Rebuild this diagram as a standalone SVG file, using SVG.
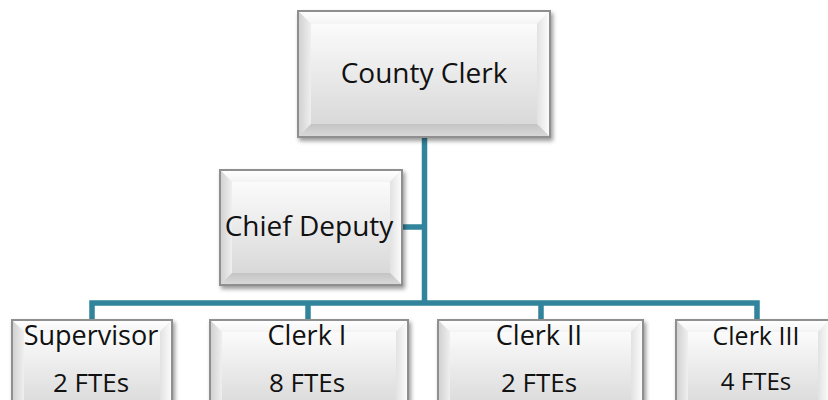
<svg xmlns="http://www.w3.org/2000/svg" width="828" height="400" viewBox="0 0 828 400">
<defs>
<linearGradient id="gInner" x1="0" y1="0" x2="0" y2="1">
<stop offset="0" stop-color="#fbfbfb"/><stop offset="1" stop-color="#d9d9d9"/>
</linearGradient>
<linearGradient id="gLeft" x1="0" y1="0" x2="1" y2="0">
<stop offset="0" stop-color="#cfcfcf"/><stop offset="1" stop-color="#efefef"/>
</linearGradient>
<linearGradient id="gRight" x1="0" y1="0" x2="1" y2="0">
<stop offset="0" stop-color="#e2e2e2"/><stop offset="1" stop-color="#fdfdfd"/>
</linearGradient>
<linearGradient id="gTop" x1="0" y1="0" x2="0" y2="1">
<stop offset="0" stop-color="#ffffff"/><stop offset="1" stop-color="#f4f4f4"/>
</linearGradient>
<linearGradient id="gBottom" x1="0" y1="0" x2="0" y2="1">
<stop offset="0" stop-color="#c4c4c4"/><stop offset="1" stop-color="#dadada"/>
</linearGradient>
<filter id="shadow" x="-10%" y="-10%" width="125%" height="130%">
<feDropShadow dx="2" dy="3" stdDeviation="2" flood-color="#000" flood-opacity="0.4"/>
</filter>
</defs>
<style>
.outer{fill:#e6e6e6;stroke:#8f8f8f;stroke-width:2;filter:url(#shadow)}
.top{fill:url(#gTop)}
.left{fill:url(#gLeft)}
.right{fill:url(#gRight)}
.bottom{fill:url(#gBottom)}
.inner{fill:url(#gInner)}
.edge{fill:none;stroke:#8f8f8f;stroke-width:2}
.conn{stroke:#31849B;stroke-width:5.5;fill:none;stroke-linecap:butt;stroke-linejoin:miter}
text{font-family:"Open Sans","Noto Sans",sans-serif;fill:#111;text-anchor:middle}
</style>

<g id="connectors">
<path class="conn" d="M424.5,137 V303"/>
<path class="conn" d="M402,227 H424.5"/>
<path class="conn" d="M92,320 V303 H757 V320"/>
<path class="conn" d="M308,303 V320"/>
<path class="conn" d="M541,303 V320"/>
</g>

<g id="county-clerk">
<rect class="outer" x="298" y="11" width="252" height="126"/>
<polygon class="top" points="298,11 550,11 537,24 311,24"/>
<polygon class="left" points="298,11 311,24 311,124 298,137"/>
<polygon class="right" points="550,11 550,137 537,124 537,24"/>
<polygon class="bottom" points="298,137 550,137 537,124 311,124"/>
<rect class="inner" x="311" y="24" width="226" height="100"/>
<rect class="edge" x="298" y="11" width="252" height="126"/>
<text x="424" y="83" font-size="28">County Clerk</text>
</g>

<g id="chief-deputy">
<rect class="outer" x="220" y="170" width="182" height="115"/>
<polygon class="top" points="220,170 402,170 390,182 232,182"/>
<polygon class="left" points="220,170 232,182 232,273 220,285"/>
<polygon class="right" points="402,170 402,285 390,273 390,182"/>
<polygon class="bottom" points="220,285 402,285 390,273 232,273"/>
<rect class="inner" x="232" y="182" width="158" height="91"/>
<rect class="edge" x="220" y="170" width="182" height="115"/>
<text x="309" y="236" font-size="28">Chief Deputy</text>
</g>

<g id="supervisor">
<rect class="outer" x="12" y="320" width="160" height="100"/>
<polygon class="top" points="12,320 172,320 160,332 24,332"/>
<polygon class="left" points="12,320 24,332 24,408 12,420"/>
<polygon class="right" points="172,320 172,420 160,408 160,332"/>
<polygon class="bottom" points="12,420 172,420 160,408 24,408"/>
<rect class="inner" x="24" y="332" width="136" height="76"/>
<rect class="edge" x="12" y="320" width="160" height="100"/>
<text x="91" y="345" font-size="27">Supervisor</text>
<text x="91" y="392" font-size="26">2 FTEs</text>
</g>

<g id="clerk-1">
<rect class="outer" x="210" y="320" width="198" height="100"/>
<polygon class="top" points="210,320 408,320 396,332 222,332"/>
<polygon class="left" points="210,320 222,332 222,408 210,420"/>
<polygon class="right" points="408,320 408,420 396,408 396,332"/>
<polygon class="bottom" points="210,420 408,420 396,408 222,408"/>
<rect class="inner" x="222" y="332" width="174" height="76"/>
<rect class="edge" x="210" y="320" width="198" height="100"/>
<text x="307" y="345" font-size="27">Clerk I</text>
<text x="307" y="392" font-size="26">8 FTEs</text>
</g>

<g id="clerk-2">
<rect class="outer" x="438" y="320" width="205" height="100"/>
<polygon class="top" points="438,320 643,320 631,332 450,332"/>
<polygon class="left" points="438,320 450,332 450,408 438,420"/>
<polygon class="right" points="643,320 643,420 631,408 631,332"/>
<polygon class="bottom" points="438,420 643,420 631,408 450,408"/>
<rect class="inner" x="450" y="332" width="181" height="76"/>
<rect class="edge" x="438" y="320" width="205" height="100"/>
<text x="539" y="345" font-size="27">Clerk II</text>
<text x="539" y="392" font-size="26">2 FTEs</text>
</g>

<g id="clerk-3">
<rect class="outer" x="676" y="320" width="154" height="100"/>
<polygon class="top" points="676,320 830,320 818,332 688,332"/>
<polygon class="left" points="676,320 688,332 688,408 676,420"/>
<polygon class="right" points="830,320 830,420 818,408 818,332"/>
<polygon class="bottom" points="676,420 830,420 818,408 688,408"/>
<rect class="inner" x="688" y="332" width="130" height="76"/>
<rect class="edge" x="676" y="320" width="154" height="100"/>
<text x="756" y="345" font-size="25">Clerk III</text>
<text x="756" y="390" font-size="24">4 FTEs</text>
</g>
</svg>
